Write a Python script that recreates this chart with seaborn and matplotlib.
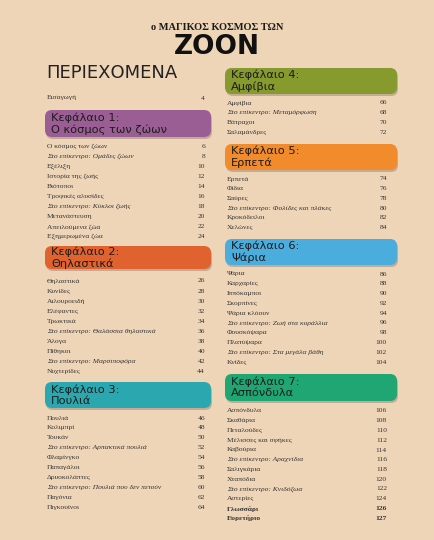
import matplotlib
matplotlib.use("Agg")
import matplotlib.pyplot as plt
from matplotlib.patches import FancyBboxPatch
import seaborn as sns

sns.set_theme(style="white")
plt.rcParams['font.family'] = ['DejaVu Sans']

BG = "#efd5b8"

chapter_titles = ["Κεφάλαιο 1:\nΟ κόσμος των ζώων", "Κεφάλαιο 2:\nΘηλαστικά", "Κεφάλαιο 3:\nΠουλιά",
                  "Κεφάλαιο 4:\nΑμφίβια", "Κεφάλαιο 5:\nΕρπετά", "Κεφάλαιο 6:\nΨάρια", "Κεφάλαιο 7:\nΑσπόνδυλα"]
chapter_colors = ["#9a5e94", "#e0622f", "#2ba8af", "#869a2d", "#f28b2b", "#4badde", "#1fa672"]

ch1_items = ["Ο κόσμος των ζώων", "*Στο επίκεντρο: Ομάδες ζώων", "Εξέλιξη", "Ιστορία της ζωής", "Βιότοποι",
             "Τροφικές αλυσίδες", "*Στο επίκεντρο: Κύκλοι ζωής", "Μετανάστευση", "Απειλούμενα ζώα", "Εξημερωμένα ζώα"]
ch1_pages = [6, 8, 10, 12, 14, 16, 18, 20, 22, 24]
ch2_items = ["Θηλαστικά", "Κυνίδες", "Αιλουροειδή", "Ελέφαντες", "Τρωκτικά", "*Στο επίκεντρο: Θαλάσσια θηλαστικά",
             "Άλογα", "Πίθηκοι", "*Στο επίκεντρο: Μαρσιποφόρα", "Νυχτερίδες"]
ch2_pages = [26, 28, 30, 32, 34, 36, 38, 40, 42, 44]
ch3_items = ["Πουλιά", "Κολιμπρί", "Τουκάν", "*Στο επίκεντρο: Αρπακτικά πουλιά", "Φλαμίνγκο", "Παπαγάλοι",
             "Δρυοκολάπτες", "*Στο επίκεντρο: Πουλιά που δεν πετούν", "Παγόνια", "Πιγκουίνοι"]
ch3_pages = [46, 48, 50, 52, 54, 56, 58, 60, 62, 64]
ch4_items = ["Αμφίβια", "*Στο επίκεντρο: Μεταμόρφωση", "Βάτραχοι", "Σαλαμάνδρες"]
ch4_pages = [66, 68, 70, 72]
ch5_items = ["Ερπετά", "Φίδια", "Σαύρες", "*Στο επίκεντρο: Φολίδες και πλάκες", "Κροκόδειλοι", "Χελώνες"]
ch5_pages = [74, 76, 78, 80, 82, 84]
ch6_items = ["Ψάρια", "Καρχαρίες", "Ιππόκαμποι", "Σκορπίνες", "Ψάρια κλόουν", "*Στο επίκεντρο: Ζωή στα κοράλλια",
             "Φουσκόψαρα", "Πλατύψαρα", "*Στο επίκεντρο: Στα μεγάλα βάθη", "Κνίδες"]
ch6_pages = [86, 88, 90, 92, 94, 96, 98, 100, 102, 104]
ch7_items = ["Ασπόνδυλα", "Σκαθάρια", "Πεταλούδες", "Μέλισσες και σφήκες", "Καβούρια", "*Στο επίκεντρο: Αραχνίδια",
             "Σαλιγκάρια", "Χταπόδια", "*Στο επίκεντρο: Κνιδόζωα", "Αστερίες", "!Γλωσσάρι", "!Ευρετήριο"]
ch7_pages = [106, 108, 110, 112, 114, 116, 118, 120, 122, 124, 126, 127]

items = [ch1_items, ch2_items, ch3_items, ch4_items, ch5_items, ch6_items, ch7_items]
pages = [ch1_pages, ch2_pages, ch3_pages, ch4_pages, ch5_pages, ch6_pages, ch7_pages]

layout = [
    (45, 211, 110, 137, 146, 10.1, 205),
    (45, 211, 246, 269, 281, 10.1, 205),
    (45, 211, 382, 408, 418, 9.9, 205),
    (225, 397, 68, 94, 103, 9.7, 387),
    (225, 397, 144, 170, 179, 9.7, 387),
    (225, 397, 239, 265, 274, 9.8, 387),
    (225, 397, 374, 401, 411, 9.75, 387),
]

fig = plt.figure(figsize=(4.34, 5.40), dpi=100)
fig.patch.set_facecolor(BG)
ax = fig.add_axes([0, 0, 1, 1])
ax.set_facecolor(BG)
ax.set_xlim(0, 434)
ax.set_ylim(540, 0)
ax.axis("off")

ax.text(217, 27, "ο ΜΑΓΙΚΟΣ ΚΟΣΜΟΣ ΤΩΝ", ha="center", va="center", fontsize=7.5,
        family="Liberation Serif", weight="bold", color="#1a1a1a")
ax.text(217, 47, "ZOON", ha="center", va="center", fontsize=19, family="DejaVu Sans Condensed",
        weight="bold", color="#111111")
ax.text(46, 73, "ΠΕΡΙΕΧΟΜΕΝΑ", ha="left", va="center", fontsize=13, color="#222222")
ax.text(47, 98, "Εισαγωγή", ha="left", va="center", fontsize=5.4, family="Liberation Serif", color="#333333")
ax.text(205, 98, "4", ha="right", va="center", fontsize=5.4, family="Liberation Serif", color="#333333")

for title, col, its, pgs, (x0, x1, y0, y1, ey, st, px) in zip(chapter_titles, chapter_colors, items, pages, layout):
    ax.add_patch(FancyBboxPatch((x0 + 1, y0 + 2), x1 - x0, y1 - y0, boxstyle="round,pad=0,rounding_size=7",
                                facecolor="#00000030", edgecolor="none"))
    ax.add_patch(FancyBboxPatch((x0, y0), x1 - x0, y1 - y0, boxstyle="round,pad=0,rounding_size=7",
                                facecolor=col, edgecolor="none"))
    ax.text(x0 + 6, (y0 + y1) / 2, title, ha="left", va="center", fontsize=8.2, color="#1c1c1c",
            linespacing=1.15)
    for i, (it, pg) in enumerate(zip(its, pgs)):
        style, weight, txt = "normal", "normal", it
        if it.startswith("*"):
            style, txt = "italic", it[1:]
        elif it.startswith("!"):
            weight, txt = "bold", it[1:]
        y = ey + i * st
        ax.text(x0 + 2, y, txt, ha="left", va="center", fontsize=5.4, family="Liberation Serif",
                style=style, weight=weight, color="#333333")
        ax.text(px, y, str(pg), ha="right", va="center", fontsize=5.4, family="Liberation Serif",
                weight=weight, color="#333333")

fig.savefig("out.png", dpi=100, facecolor=BG)
